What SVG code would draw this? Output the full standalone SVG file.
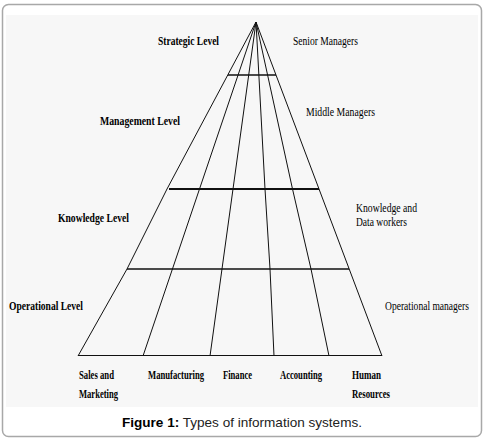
<svg xmlns="http://www.w3.org/2000/svg" width="486" height="442" viewBox="0 0 486 442">
<style>
.frame{fill:#fff;stroke:#a8a8a8;stroke-width:1.5}
.panel{fill:#f7f7f7}
.ln{stroke:#111;stroke-width:1;fill:none}
.hl{stroke:#111;stroke-width:1.6}
.lbl{font-family:"Liberation Serif",serif;font-size:12px;fill:#000}
.b{font-weight:bold}
.cap{font-family:"Liberation Sans",Arial,sans-serif;font-size:13.5px;fill:#222}
</style>
<rect class="frame" x="2.5" y="4.5" width="479" height="432" rx="6"/>
<rect class="panel" x="6" y="15" width="472" height="392"/>
<g id="connectors">
<polyline class="ln" points="256,22 167,189 127,269 78,356"/>
<line class="ln" x1="256" y1="22" x2="143" y2="356"/>
<line class="ln" x1="256" y1="22" x2="210" y2="356"/>
<polyline class="ln" points="256,22 265,189 270,269 274,356"/>
<polyline class="ln" points="256,22 292.5,189 311,269 329,356"/>
<line class="ln" x1="256" y1="22" x2="382" y2="356"/>
<line class="hl" x1="228" y1="75" x2="276" y2="75"/>
<line class="hl" x1="169" y1="189" x2="319" y2="189" style="stroke-width:2.2"/>
<line class="hl" x1="127" y1="269" x2="349" y2="269"/>
<line class="ln" x1="78" y1="355.5" x2="382" y2="355.5"/>
</g>
<g id="strategic"><text class="lbl b" x="158" y="45" textLength="61" lengthAdjust="spacingAndGlyphs">Strategic Level</text></g>
<g id="senior"><text class="lbl" x="293" y="45" textLength="65" lengthAdjust="spacingAndGlyphs">Senior Managers</text></g>
<g id="management"><text class="lbl b" x="100" y="125" textLength="80" lengthAdjust="spacingAndGlyphs">Management Level</text></g>
<g id="middle"><text class="lbl" x="306" y="116" textLength="69" lengthAdjust="spacingAndGlyphs">Middle Managers</text></g>
<g id="knowledge"><text class="lbl b" x="58" y="222" textLength="71" lengthAdjust="spacingAndGlyphs">Knowledge Level</text></g>
<g id="knowledge-workers"><text class="lbl" x="356" y="212" textLength="61" lengthAdjust="spacingAndGlyphs">Knowledge and</text><text class="lbl" x="356" y="226" textLength="51" lengthAdjust="spacingAndGlyphs">Data workers</text></g>
<g id="operational"><text class="lbl b" x="9" y="310" textLength="74" lengthAdjust="spacingAndGlyphs">Operational Level</text></g>
<g id="operational-managers"><text class="lbl" x="385" y="310" textLength="84" lengthAdjust="spacingAndGlyphs">Operational managers</text></g>
<g id="sales"><text class="lbl b" x="79" y="379" textLength="35" lengthAdjust="spacingAndGlyphs">Sales and</text><text class="lbl b" x="79" y="398" textLength="39" lengthAdjust="spacingAndGlyphs">Marketing</text></g>
<g id="manufacturing"><text class="lbl b" x="148" y="379" textLength="56" lengthAdjust="spacingAndGlyphs">Manufacturing</text></g>
<g id="finance"><text class="lbl b" x="223" y="379" textLength="29" lengthAdjust="spacingAndGlyphs">Finance</text></g>
<g id="accounting"><text class="lbl b" x="280" y="379" textLength="42" lengthAdjust="spacingAndGlyphs">Accounting</text></g>
<g id="hr"><text class="lbl b" x="352" y="379" textLength="29" lengthAdjust="spacingAndGlyphs">Human</text><text class="lbl b" x="352" y="398" textLength="38" lengthAdjust="spacingAndGlyphs">Resources</text></g>
<text class="cap" x="122" y="427" textLength="240" lengthAdjust="spacingAndGlyphs"><tspan font-weight="bold" fill="#000">Figure 1:</tspan> Types of information systems.</text>
</svg>
